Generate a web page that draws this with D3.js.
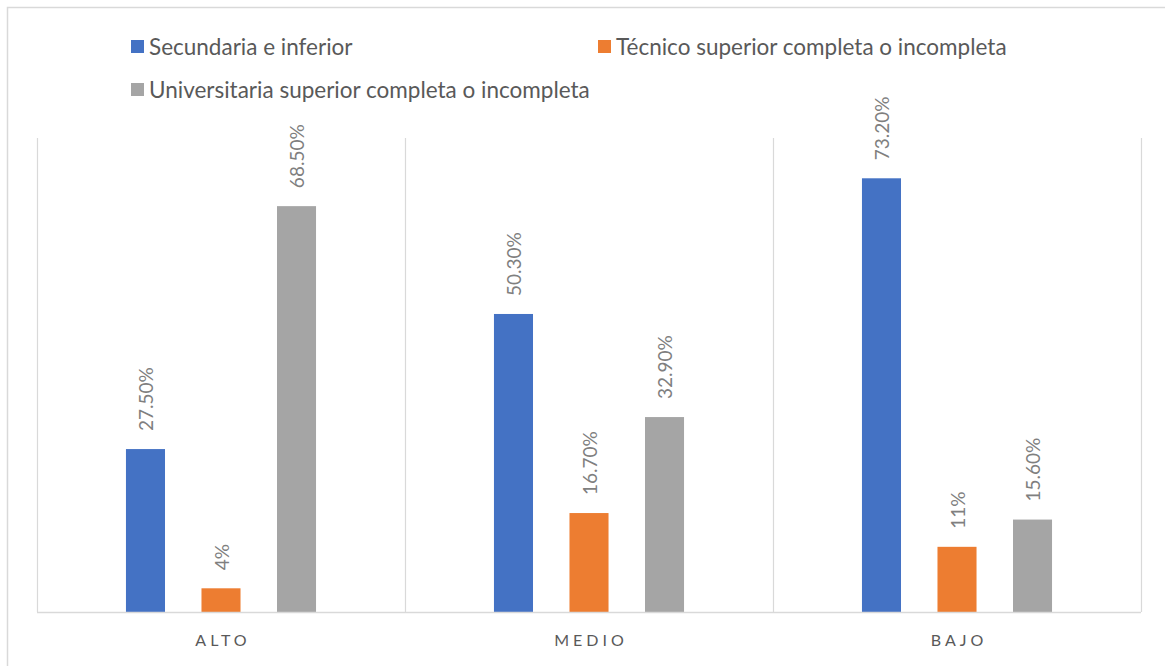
<!DOCTYPE html>
<html>
<head>
<meta charset="utf-8">
<script src="https://cdn.jsdelivr.net/npm/d3@7"></script>
<style>
  html, body { margin: 0; padding: 0; background: #fff; }
  svg { display: block; }
</style>
</head>
<body>
<svg id="chart" width="1165" height="666"></svg>
<script>
const categories = ["ALTO", "MEDIO", "BAJO"];
const seriesNames = [
  "Secundaria e inferior",
  "Técnico superior completa o incompleta",
  "Universitaria superior completa o incompleta"
];
const secundaria = [27.5, 50.3, 73.2];
const tecnico = [4, 16.7, 11];
const universitaria = [68.5, 32.9, 15.6];
const valueLabels = [
  ["27.50%", "50.30%", "73.20%"],
  ["4%", "16.70%", "11%"],
  ["68.50%", "32.90%", "15.60%"]
];
const colors = ["#4472C4", "#ED7D31", "#A5A5A5"];
const yMax = 80;

const seriesValues = [secundaria, tecnico, universitaria];
const svg = d3.select("#chart");
const FONT = "Lato, 'Open Sans', sans-serif";

// outer border
svg.append("rect").attr("x", 7.5).attr("y", 7.5).attr("width", 1170).attr("height", 670)
  .attr("fill", "none").attr("stroke", "#d9d9d9").attr("stroke-width", 1.5);

const plot = { left: 37, right: 1141, top: 138, bottom: 612 };

const x0 = d3.scaleBand().domain(categories).range([plot.left, plot.right]).padding(0);
const x1 = d3.scaleBand().domain(d3.range(3)).range([0, x0.bandwidth()])
  .paddingInner(0.483).paddingOuter(1.178);
const y = d3.scaleLinear().domain([0, yMax]).range([plot.bottom, plot.top]);

// vertical category separators
const seps = categories.map(c => x0(c)).concat([plot.right]);
svg.append("g").selectAll("line").data(seps).join("line")
  .attr("x1", d => d + 0.5).attr("x2", d => d + 0.5)
  .attr("y1", plot.top).attr("y2", plot.bottom)
  .attr("stroke", "#d9d9d9").attr("stroke-width", 1.2);

// bars
const data = [];
categories.forEach((c, ci) => {
  seriesValues.forEach((vals, si) => {
    data.push({ c, ci, si, v: vals[ci], label: valueLabels[si][ci] });
  });
});

const g = svg.append("g");
g.selectAll("rect").data(data).join("rect")
  .attr("x", d => x0(d.c) + x1(d.si))
  .attr("width", x1.bandwidth())
  .attr("y", d => y(d.v))
  .attr("height", d => y(0) - y(d.v))
  .attr("fill", d => colors[d.si]);

// value labels (rotated)
g.selectAll("text").data(data).join("text")
  .attr("transform", d => {
    const cx = x0(d.c) + x1(d.si) + x1.bandwidth() / 2;
    return `translate(${cx},${y(d.v) - 18}) rotate(-90)`;
  })
  .attr("text-anchor", "start")
  .attr("dominant-baseline", "central")
  .attr("font-family", FONT)
  .attr("font-size", 19)
  .attr("fill", "#7f7f7f")
  .text(d => d.label);

// baseline axis
const xAxis = d3.axisBottom(x0).tickSize(0).tickPadding(0);
const axG = svg.append("g").attr("transform", `translate(0,${plot.bottom})`).call(xAxis);
axG.select(".domain").attr("stroke", "#d9d9d9").attr("stroke-width", 1.5)
  .attr("d", `M${plot.left},0.5H${plot.right}`);
axG.selectAll(".tick text")
  .attr("y", 34)
  .attr("dy", 0)
  .attr("font-family", FONT)
  .attr("font-size", 16)
  .attr("letter-spacing", "4px")
  .attr("fill", "#595959")
  .attr("dx", "2px");

// legend
const legendItems = [
  { i: 0, x: 131, y: 46 },
  { i: 1, x: 598, y: 46 },
  { i: 2, x: 131, y: 89 }
];
const lg = svg.append("g").selectAll("g").data(legendItems).join("g")
  .attr("transform", d => `translate(${d.x},${d.y})`);
lg.append("rect").attr("x", 0).attr("y", -6).attr("width", 13).attr("height", 13)
  .attr("fill", d => colors[d.i]);
lg.append("text").attr("x", 18).attr("y", 0)
  .attr("dominant-baseline", "central")
  .attr("font-family", FONT).attr("font-size", 22.5)
  .attr("fill", "#595959")
  .text(d => seriesNames[d.i]);
</script>
</body>
</html>
